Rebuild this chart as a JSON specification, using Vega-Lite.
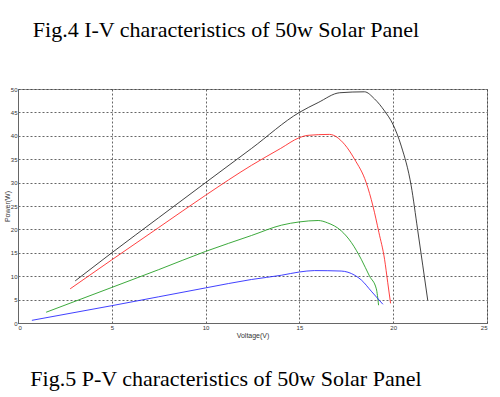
{
  "$schema": "https://vega.github.io/schema/vega-lite/v6.json",
  "background": "white",
  "padding": {"left": 2, "top": 18, "right": 14, "bottom": 6},
  "title": {"text": "Fig.4 I-V characteristics of 50w Solar Panel", "font": "Liberation Serif", "fontSize": 22, "fontWeight": "normal", "color": "black", "anchor": "start", "dx": 30, "offset": 44},
  "config": {"view": {"stroke": "#999"}, "concat": {"spacing": 0}},
  "vconcat": [
    {
      "width": 469,
      "height": 234,
      "title": {"text": "Fig.5 P-V characteristics of 50w Solar Panel", "orient": "bottom", "font": "Liberation Serif", "fontSize": 22, "fontWeight": "normal", "color": "black", "anchor": "start", "dx": 27, "offset": 31},
      "data": {"values": [
        {"V": 3.05, "P": 9.0, "s": "black"}, {"V": 5, "P": 15, "s": "black"}, {"V": 7.5, "P": 22.5, "s": "black"}, {"V": 10, "P": 30, "s": "black"}, {"V": 12.45, "P": 37.3, "s": "black"}, {"V": 15, "P": 45, "s": "black"}, {"V": 16, "P": 47.1, "s": "black"}, {"V": 17.15, "P": 49.2, "s": "black"}, {"V": 18.47, "P": 49.4, "s": "black"}, {"V": 19.0, "P": 47.9, "s": "black"}, {"V": 19.54, "P": 45.3, "s": "black"}, {"V": 19.98, "P": 42.5, "s": "black"}, {"V": 20.43, "P": 37.8, "s": "black"}, {"V": 20.96, "P": 29.3, "s": "black"}, {"V": 21.3, "P": 20, "s": "black"}, {"V": 21.58, "P": 12.2, "s": "black"}, {"V": 21.84, "P": 4.9, "s": "black"},
        {"V": 2.78, "P": 7.3, "s": "red"}, {"V": 5, "P": 13.5, "s": "red"}, {"V": 7.5, "P": 20.4, "s": "red"}, {"V": 10, "P": 27.3, "s": "red"}, {"V": 12.45, "P": 33.7, "s": "red"}, {"V": 14, "P": 37.3, "s": "red"}, {"V": 15, "P": 39.6, "s": "red"}, {"V": 15.46, "P": 40.1, "s": "red"}, {"V": 16.6, "P": 40.3, "s": "red"}, {"V": 17.4, "P": 38.2, "s": "red"}, {"V": 17.94, "P": 35, "s": "red"}, {"V": 18.56, "P": 30, "s": "red"}, {"V": 18.92, "P": 25, "s": "red"}, {"V": 19.24, "P": 19.3, "s": "red"}, {"V": 19.54, "P": 13.6, "s": "red"}, {"V": 19.71, "P": 8.6, "s": "red"}, {"V": 19.86, "P": 4.2, "s": "red"},
        {"V": 1.5, "P": 2.3, "s": "green"}, {"V": 5, "P": 7.6, "s": "green"}, {"V": 7.5, "P": 11.4, "s": "green"}, {"V": 10, "P": 15.3, "s": "green"}, {"V": 12.45, "P": 18.7, "s": "green"}, {"V": 14.04, "P": 20.9, "s": "green"}, {"V": 15, "P": 21.6, "s": "green"}, {"V": 16, "P": 21.9, "s": "green"}, {"V": 16.5, "P": 21.4, "s": "green"}, {"V": 17.23, "P": 19.7, "s": "green"}, {"V": 17.77, "P": 17.2, "s": "green"}, {"V": 18.3, "P": 13.6, "s": "green"}, {"V": 18.74, "P": 10, "s": "green"}, {"V": 19.1, "P": 7.3, "s": "green"}, {"V": 19.22, "P": 3.8, "s": "green"},
        {"V": 0.74, "P": 0.57, "s": "blue"}, {"V": 5, "P": 3.7, "s": "blue"}, {"V": 10, "P": 7.5, "s": "blue"}, {"V": 12.45, "P": 9.3, "s": "blue"}, {"V": 14.04, "P": 10.2, "s": "blue"}, {"V": 15, "P": 10.9, "s": "blue"}, {"V": 15.8, "P": 11.2, "s": "blue"}, {"V": 17.23, "P": 11.1, "s": "blue"}, {"V": 17.95, "P": 10.2, "s": "blue"}, {"V": 18.3, "P": 9.2, "s": "blue"}, {"V": 18.83, "P": 6.8, "s": "blue"}, {"V": 19.45, "P": 4.0, "s": "blue"}
      ]},
      "mark": {"type": "line", "strokeWidth": 1, "interpolate": "monotone", "opacity": 0.85},
      "encoding": {
        "x": {"field": "V", "type": "quantitative", "scale": {"domain": [0, 25], "nice": false},
          "axis": {"title": "Voltage(V)", "values": [0, 5, 10, 15, 20, 25], "labelFontSize": 6, "labelColor": "#333", "labelFont": "Liberation Sans", "titleFont": "Liberation Sans", "titleFontSize": 7, "titleFontWeight": "normal", "titleColor": "#333", "titlePadding": 1, "labelPadding": 1, "ticks": false, "domainColor": "#666", "grid": true, "gridColor": "#333", "gridDash": [2, 2], "gridOpacity": 0.75}},
        "y": {"field": "P", "type": "quantitative", "scale": {"domain": [0, 50], "nice": false},
          "axis": {"title": "Power(W)", "values": [0, 5, 10, 15, 20, 25, 30, 35, 40, 45, 50], "labelFontSize": 6, "labelColor": "#333", "labelFont": "Liberation Sans", "titleFont": "Liberation Sans", "titleFontSize": 7, "titleFontWeight": "normal", "titleColor": "#333", "titlePadding": 0, "labelPadding": 1, "ticks": false, "domainColor": "#666", "grid": true, "gridColor": "#333", "gridDash": [2, 2], "gridOpacity": 0.75}},
        "color": {"field": "s", "type": "nominal", "scale": {"domain": ["black", "red", "green", "blue"], "range": ["#222222", "#ff2020", "#1a9a1a", "#2020ff"]}, "legend": null}
      }
    }
  ]
}
